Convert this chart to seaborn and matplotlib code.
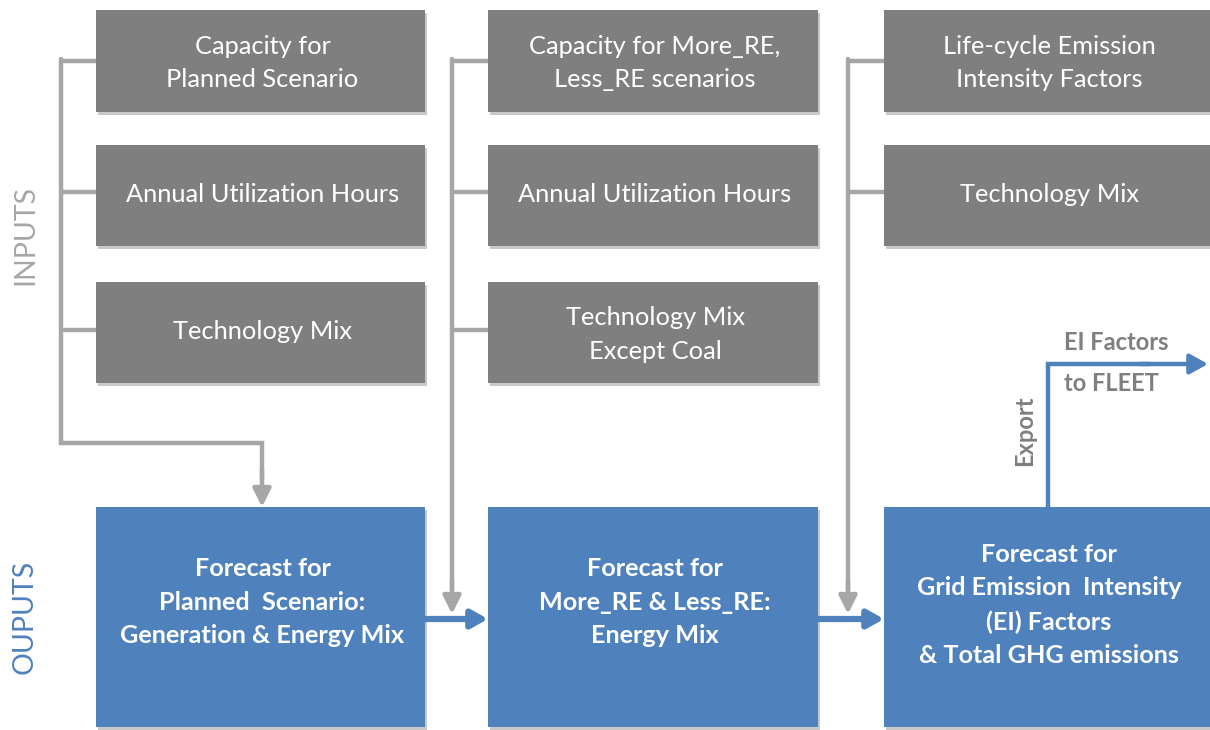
import matplotlib.pyplot as plt
import matplotlib.patches as mpatches
import seaborn as sns

# box labels, one list per column (top to bottom)
input_labels = [
    ["Capacity for\nPlanned Scenario", "Annual Utilization Hours", "Technology Mix"],
    ["Capacity for More_RE,\nLess_RE scenarios", "Annual Utilization Hours", "Technology Mix\nExcept Coal"],
    ["Life-cycle Emission\nIntensity Factors", "Technology Mix"],
]
output_labels = [
    "Forecast for\nPlanned  Scenario:\nGeneration & Energy Mix",
    "Forecast for\nMore_RE & Less_RE:\nEnergy Mix",
    "Forecast for\nGrid Emission  Intensity\n(EI) Factors\n& Total GHG emissions",
]
side_labels = ["INPUTS", "OUPUTS"]
export_label = "Export"
export_target = "EI Factors\nto FLEET"

# layout (pixel coordinates, y downwards)
col_x = [(96, 425), (488, 818), (884, 1212)]
row_y = [(10, 112), (145, 246), (282, 383)]
out_y = (507, 727)
spine_x = [61, 452, 848]

GRAY_BOX = "#7f7f7f"
BLUE_BOX = "#4f81bd"
LINE_GRAY = "#a6a6a6"
TEXT_GRAY = "#7f7f7f"

sns.set_theme(style="white")
plt.rcParams["font.family"] = ["Lato", "DejaVu Sans"]

fig = plt.figure(figsize=(12.1, 7.3), dpi=100)
ax = fig.add_axes([0, 0, 1, 1])
ax.set_xlim(0, 1210)
ax.set_ylim(730, 0)
ax.axis("off")


def box(x0, x1, y0, y1, color, text, bold=False, text_dy=0):
    # soft shadow then box
    ax.add_patch(mpatches.Rectangle((x0 + 2, y0 + 3), x1 - x0, y1 - y0,
                                    color="#c8c8c8", lw=0, zorder=1))
    ax.add_patch(mpatches.Rectangle((x0, y0), x1 - x0, y1 - y0,
                                    color=color, lw=0, zorder=2))
    ax.text((x0 + min(x1, 1210)) / 2 + 2, (y0 + y1) / 2 + text_dy, text,
            color="white", ha="center", va="center",
            fontsize=18.3 if not bold else 18.2,
            fontweight="bold" if bold else "normal", linespacing=1.56, zorder=3)


for c, labels in enumerate(input_labels):
    x0, x1 = col_x[c]
    for r, lab in enumerate(labels):
        y0, y1 = row_y[r]
        box(x0, x1, y0, y1, GRAY_BOX, lab, text_dy=2 if "\n" in lab else -1)
    box(x0, x1, out_y[0], out_y[1], BLUE_BOX, output_labels[c], bold=True,
        text_dy=-15 if c < 2 else -12)

# gray connectors
lw_g = 3.2
for c, labels in enumerate(input_labels):
    sx = spine_x[c]
    x0 = col_x[c][0]
    branch_y = [61, 192, 330][:len(labels)]
    for by in branch_y:
        ax.plot([sx, x0], [by, by], color=LINE_GRAY, lw=lw_g, solid_capstyle="butt", zorder=1)
    if c == 0:
        ax.plot([sx, sx, 262, 262], [59, 443, 443, 480], color=LINE_GRAY, lw=lw_g,
                solid_joinstyle="miter", zorder=1)
        ax.annotate("", xy=(262, 507), xytext=(262, 470),
                    arrowprops=dict(arrowstyle="-|>,head_length=0.9,head_width=0.45",
                                    color=LINE_GRAY, lw=lw_g, shrinkA=0, shrinkB=0))
    else:
        ax.plot([sx, sx], [59, 590], color=LINE_GRAY, lw=lw_g, zorder=1)
        ax.annotate("", xy=(sx, 614), xytext=(sx, 580),
                    arrowprops=dict(arrowstyle="-|>,head_length=0.9,head_width=0.45",
                                    color=LINE_GRAY, lw=lw_g, shrinkA=0, shrinkB=0))

# blue flow arrows between outputs
for c in range(2):
    ax.annotate("", xy=(col_x[c + 1][0], 619), xytext=(col_x[c][1], 619),
                arrowprops=dict(arrowstyle="-|>,head_length=0.8,head_width=0.45",
                                color=BLUE_BOX, lw=4.5, shrinkA=0, shrinkB=0), zorder=4)

# export arrow
ax.plot([1048, 1048, 1150], [507, 364, 364], color=BLUE_BOX, lw=3.2,
        solid_joinstyle="miter", zorder=4)
ax.annotate("", xy=(1208, 364), xytext=(1140, 364), annotation_clip=False,
            arrowprops=dict(arrowstyle="-|>,head_length=0.9,head_width=0.5",
                            color=BLUE_BOX, lw=3.2, shrinkA=0, shrinkB=0), zorder=4)
ax.text(1025, 431, export_label, rotation=90, ha="center", va="center",
        color=TEXT_GRAY, fontsize=17, fontweight="bold")
ax.text(1064, 363, export_target, ha="left", va="center", color=TEXT_GRAY,
        fontsize=17, fontweight="bold", linespacing=1.95)

# side labels
ax.text(25, 235, side_labels[0], rotation=90, ha="center", va="center",
        color="#a6a6a6", fontsize=20.5)
ax.text(25, 617, side_labels[1], rotation=90, ha="center", va="center",
        color=BLUE_BOX, fontsize=20.5)

fig.savefig("out.png", dpi=100)
